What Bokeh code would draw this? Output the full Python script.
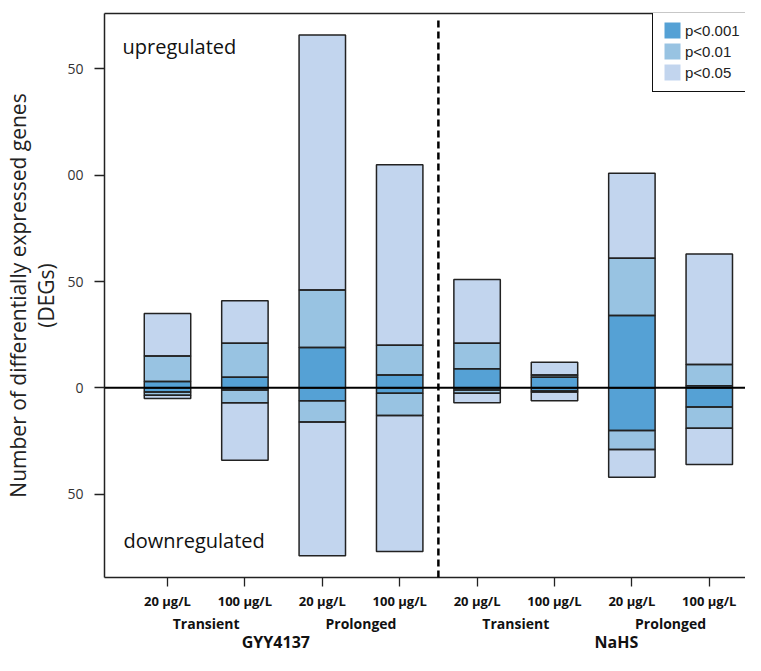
from bokeh.plotting import figure
from bokeh.models import (ColumnDataSource, Range1d, LinearAxis, FixedTicker, Span,
                          Arrow, Label, Legend, LegendItem)
from bokeh.embed import file_html
from bokeh.resources import INLINE

# ---------------- data ----------------
dose_labels = ["20 μg/L", "100 μg/L", "20 μg/L", "100 μg/L",
               "20 μg/L", "100 μg/L", "20 μg/L", "100 μg/L"]
exposure_labels = ["Transient", "Prolonged", "Transient", "Prolonged"]
donor_labels = ["GYY4137", "NaHS"]
donor_label_x = [2.4, 6.8]

# cumulative numbers of upregulated DEGs
up_p001 = [3, 5, 19, 6, 9, 5, 34, 1]
up_p01 = [15, 21, 46, 20, 21, 6, 61, 11]
up_p05 = [35, 41, 166, 105, 51, 12, 101, 63]
# cumulative numbers of downregulated DEGs (negative)
down_p001 = [-2, -1, -6, -2.5, -1, -1.5, -20, -9]
down_p01 = [-3.5, -7, -16, -13, -2.5, -2, -29, -19]
down_p05 = [-5, -34, -79, -77, -7, -6, -42, -36]

level_labels = ["p<0.001", "p<0.01", "p<0.05"]
level_colors = ["#55A1D5", "#98C3E2", "#C2D5EE"]

y_ticks = [-50, 0, 50, 100, 150]
y_tick_labels = ["50", "0", "50", "00", "50"]

# ---------------- build segments ----------------
xs = list(range(1, len(dose_labels) + 1))
level_src = []
all_seg = dict(x=[], bottom=[], top=[])
for k in range(3):
    seg = dict(x=[], bottom=[], top=[])
    for i, x in enumerate(xs):
        ups = [0, up_p001[i], up_p01[i], up_p05[i]]
        downs = [0, down_p001[i], down_p01[i], down_p05[i]]
        for vals in (ups, downs):
            for d in (seg, all_seg):
                d["x"].append(x)
                d["bottom"].append(vals[k])
                d["top"].append(vals[k + 1])
    level_src.append(ColumnDataSource(seg))

Y0, Y1 = -89.2, 176.1
p = figure(width=745, height=655,
           x_range=Range1d(0.186, 8.468), y_range=Range1d(Y0, Y1),
           output_backend="svg", toolbar_location=None,
           min_border_left=104, min_border_right=0, min_border_top=13, min_border_bottom=77)
p.outline_line_color = None
p.grid.visible = False
p.background_fill_color = "white"
p.border_fill_color = "white"

fill_r = []
for k in range(3):
    fill_r.append(p.vbar(x="x", bottom="bottom", top="top", width=0.6,
                         fill_color=level_colors[k], line_color=None, source=level_src[k]))
p.vbar(x="x", bottom="bottom", top="top", width=0.6, fill_color=None,
       line_color="#222222", line_width=1.5, source=ColumnDataSource(all_seg))

p.add_layout(Span(location=0, dimension="width", line_color="black", line_width=2))

# dashed separator between the two donors, running down through the labels
p.add_layout(Arrow(end=None, x_start=4.5, x_end=4.5, y_start=Y1 - 3.3, y_end=Y0 - 50,
                   line_dash="7 4", line_width=2.5, line_color="black"))

# ---- y axis ----
ya = p.yaxis[0]
ya.ticker = FixedTicker(ticks=y_ticks)
ya.major_label_overrides = {t: l for t, l in zip(y_ticks, y_tick_labels)}
ya.major_tick_out = 10
ya.major_tick_in = 0
ya.minor_tick_out = 0
ya.minor_tick_in = 0
ya.major_label_standoff = 11
ya.major_label_text_font = "Open Sans"
ya.major_label_text_font_size = "14px"
ya.major_label_text_color = "#333333"
ya.axis_line_width = 1.5
ya.axis_line_color = "#222222"
ya.major_tick_line_color = "#222222"
ya.major_tick_line_width = 1.3
ya.axis_label = "Number of differentially expressed genes\n(DEGs)"
ya.axis_label_text_font = "Open Sans"
ya.axis_label_text_font_size = "21px"
ya.axis_label_text_font_style = "normal"
ya.axis_label_text_color = "#222222"
ya.axis_label_standoff = 4
ya.axis_label_text_line_height = 1.0

# ---- x axis (doses) ----
xa = p.xaxis[0]
xa.ticker = FixedTicker(ticks=xs)
xa.major_label_overrides = {x: l for x, l in zip(xs, dose_labels)}
xa.major_tick_out = 9
xa.major_tick_in = 0
xa.minor_tick_out = 0
xa.minor_tick_in = 0
xa.major_label_standoff = 5
xa.axis_label_standoff = 0
xa.major_label_text_font = "Open Sans"
xa.major_label_text_font_style = "bold"
xa.major_label_text_font_size = "13px"
xa.major_label_text_color = "#111111"
xa.axis_line_width = 1.5
xa.axis_line_color = "#222222"
xa.major_tick_line_color = "#222222"
xa.major_tick_line_width = 1.3

# ---- exposure and donor labels (label-only axes stacked below) ----
exp_x = [(xs[2 * j] + xs[2 * j + 1]) / 2 for j in range(len(exposure_labels))]
xb = LinearAxis(ticker=FixedTicker(ticks=exp_x),
                major_label_overrides={x: l for x, l in zip(exp_x, exposure_labels)})
xc = LinearAxis(ticker=FixedTicker(ticks=donor_label_x),
                major_label_overrides={x: l for x, l in zip(donor_label_x, donor_labels)})
for ax, fs, so in ((xb, "14px", 1), (xc, "16px", -5)):
    ax.axis_line_color = None
    ax.major_tick_line_color = None
    ax.minor_tick_line_color = None
    ax.major_tick_out = 0
    ax.major_tick_in = 0
    ax.minor_tick_out = 0
    ax.minor_tick_in = 0
    ax.major_label_standoff = so
    ax.axis_label_standoff = 0
    ax.major_label_text_font = "Open Sans"
    ax.major_label_text_font_style = "bold"
    ax.major_label_text_font_size = fs
    ax.major_label_text_color = "#111111"
    p.add_layout(ax, "below")

# ---- top border ----
top = LinearAxis(ticker=FixedTicker(ticks=[]), major_tick_out=0, major_tick_in=0,
                 minor_tick_out=0, minor_tick_in=0, axis_line_width=1.5,
                 axis_label_standoff=0, axis_line_color="#222222")
p.add_layout(top, "above")

# ---- annotations ----
p.add_layout(Label(x=18, y=531, x_units="screen", y_units="screen", text="upregulated",
                   text_font="Open Sans", text_font_size="20px", text_baseline="middle",
                   text_color="#111111"))
p.add_layout(Label(x=19, y=37, x_units="screen", y_units="screen", text="downregulated",
                   text_font="Open Sans", text_font_size="20px", text_baseline="middle",
                   text_color="#111111"))

# ---- legend ----
legend = Legend(items=[LegendItem(label=l, renderers=[r]) for l, r in zip(level_labels, fill_r)],
                location=(548, 485), padding=9, spacing=1, margin=0,
                glyph_width=20, glyph_height=20, label_height=20, label_standoff=3,
                label_text_font="Liberation Sans", label_text_font_size="15px",
                label_text_color="#222222",
                border_line_color="#111111", border_line_width=1.3, border_line_alpha=1.0,
                background_fill_color="white", background_fill_alpha=1.0)
p.add_layout(legend)

open("out.html", "w").write(file_html(p, INLINE))
